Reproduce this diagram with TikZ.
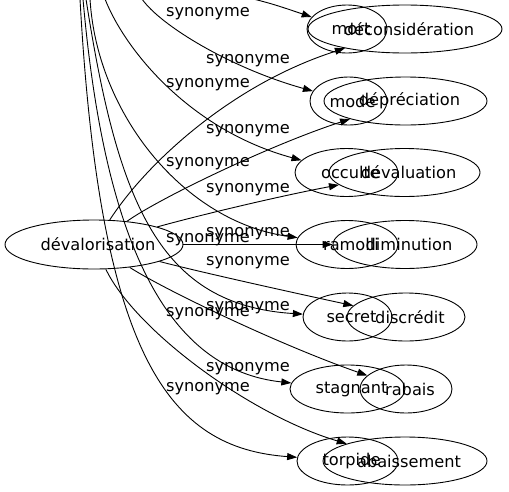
\documentclass[tikz,border=0pt]{standalone}
\usepackage{fontspec}
\setmainfont{DejaVu Sans}
\usetikzlibrary{shapes.geometric,arrows.meta}
\begin{document}
\begin{tikzpicture}[x=1pt,y=-1pt,
  every node/.style={font=\fontsize{16.2}{19}\selectfont},
  nd/.style={draw, ellipse, inner sep=0pt, line width=0.9pt, minimum height=48pt,
    execute at end node={\hspace*{-8pt}}},
  lab/.style={inner sep=0pt},
  edge/.style={draw, line width=0.9pt, -{Triangle[length=10pt,width=7pt]}}]
\useasboundingbox (0,0) rectangle (509,491);
\clip (0,0) rectangle (509,491);
% source node
\node[nd, minimum width=178pt, minimum height=49pt] (dev) at (94,244.5) {dévalorisation};
% targets of dévalorisation
\node[nd, minimum width=194pt] (dec)   at (405,29)    {déconsidération};
\node[nd, minimum width=163pt] (dep)   at (405.5,101) {dépréciation};
\node[nd, minimum width=151pt] (deval) at (404.5,172.5) {dévaluation};
\node[nd, minimum width=144pt] (dim)   at (405,244.5) {diminution};
\node[nd, minimum width=118pt] (disc)  at (406,317)   {discrédit};
\node[nd, minimum width=92pt]  (rab)   at (406,389)   {rabais};
\node[nd, minimum width=164pt] (aba)   at (405,461)   {abaissement};
% targets of the hidden source
\node[nd, minimum width=80pt]  (mort)  at (347,29)    {mort};
\node[nd, minimum width=77pt]  (mode)  at (348.5,101) {mode};
\node[nd, minimum width=103pt] (occ)   at (346.5,172.5) {occulte};
\node[nd, minimum width=102pt] (ram)   at (347,244.5) {ramolli};
\node[nd, minimum width=89pt]  (sec)   at (347.5,317) {secret};
\node[nd, minimum width=115pt] (stag)  at (347.5,389) {stagnant};
\node[nd, minimum width=101pt] (torp)  at (347.5,461) {torpide};
% free ends above the picture
\coordinate (s1) at (80,-1);
\coordinate (s2) at (83,-1);
\coordinate (s3) at (86,-1);
\coordinate (s4) at (90,-1);
\coordinate (s5) at (105,-1);
\coordinate (s6) at (142,-1);
\coordinate (s7) at (225,-8);
% edges from dévalorisation
\draw[edge] (dev) .. controls (145,165) and (230,85) .. (dec);
\draw[edge] (dev) .. controls (160,198) and (270,145) .. (dep);
\draw[edge] (dev) .. controls (200,215) and (280,196) .. (deval);
\draw[edge] (dev) -- (dim);
\draw[edge] (dev) .. controls (200,272) and (290,292) .. (disc);
\draw[edge] (dev) .. controls (165,290) and (280,345) .. (rab);
\draw[edge] (dev) .. controls (135,330) and (250,415) .. (aba);
% edges from the hidden source
\draw[edge] (s1) .. controls (100,360) and (170,448) .. (torp);
\draw[edge] (s2) .. controls (105,250) and (170,370) .. (stag);
\draw[edge] (s3) .. controls (118,205) and (160,305) .. (sec);
\draw[edge] (s4) .. controls (97,115) and (185,222) .. (ram);
\draw[edge] (s5) .. controls (125,50) and (190,130) .. (occ);
\draw[edge] (s6) .. controls (160,25) and (230,68) .. (mode);
\draw[edge] (s7) .. controls (270,3) .. (mort);
% edge labels
\node[lab] (l1)  at (208,13.5)  {synonyme};
\node[lab] (l2)  at (248,60.5)  {synonyme};
\node[lab] (l3)  at (208,85)    {synonyme};
\node[lab] (l4)  at (248,131)   {synonyme};
\node[lab] (l5)  at (208,163.5) {synonyme};
\node[lab] (l6)  at (248,190)   {synonyme};
\node[lab] (l7)  at (248,234)   {synonyme};
\node[lab] (l8)  at (208,240)   {synonyme};
\node[lab] (l9)  at (248,262.5) {synonyme};
\node[lab] (l10) at (248,307.5) {synonyme};
\node[lab] (l11) at (208,313.5) {synonyme};
\node[lab] (l12) at (248,368.5) {synonyme};
\node[lab] (l13) at (208,388.5) {synonyme};
\end{tikzpicture}
\end{document}
